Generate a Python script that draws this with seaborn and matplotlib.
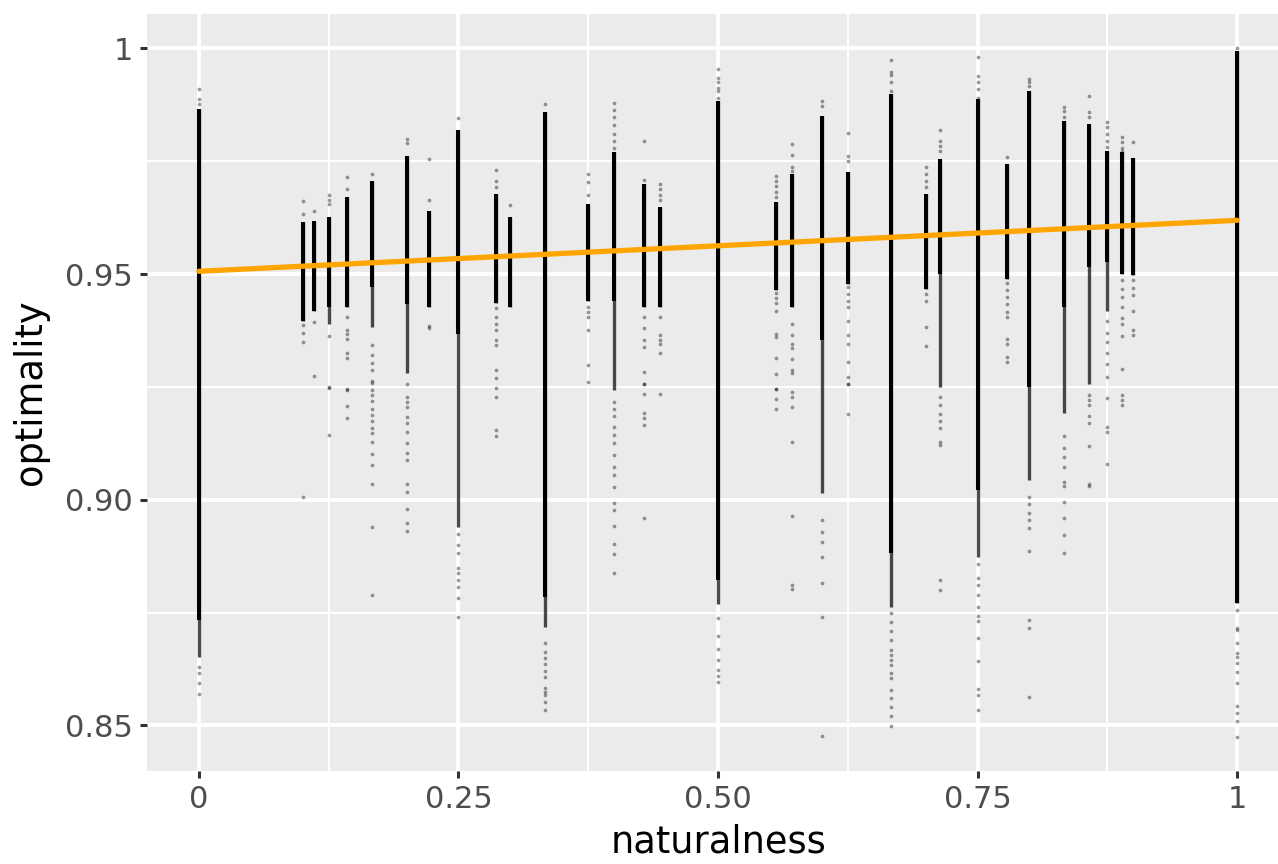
import pandas as pd
import matplotlib
matplotlib.use("Agg")
import matplotlib.pyplot as plt
import seaborn as sns

# naturalness levels (x positions of the vertical strips)
naturalness = [0, 0.1, 0.111, 0.125, 0.143, 0.167, 0.2, 0.222, 0.25, 0.286, 0.3,
               0.333, 0.375, 0.4, 0.429, 0.444, 0.5, 0.556, 0.571, 0.6, 0.625,
               0.667, 0.7, 0.714, 0.75, 0.778, 0.8, 0.833, 0.857, 0.875, 0.889,
               0.9, 1]

# dense core of each strip (solid black)
core_lo = [0.8733, 0.9397, 0.9418, 0.9427, 0.9427, 0.9471, 0.9434, 0.9427, 0.9368, 0.9435, 0.9427,
           0.8785, 0.9441, 0.9441, 0.9427, 0.9427, 0.8822, 0.9464, 0.9427, 0.9353, 0.9478,
           0.8881, 0.9467, 0.9501, 0.9021, 0.949, 0.925, 0.9427, 0.9515, 0.9526, 0.95,
           0.9497, 0.8771]
core_hi = [0.9866, 0.9615, 0.9618, 0.9626, 0.967, 0.9707, 0.9762, 0.964, 0.9818, 0.9677, 0.9627,
           0.9858, 0.9655, 0.977, 0.97, 0.9648, 0.9884, 0.9659, 0.9722, 0.9851, 0.9725,
           0.9899, 0.9677, 0.9755, 0.9888, 0.9744, 0.9906, 0.984, 0.9832, 0.9773, 0.977,
           0.9758, 0.9994]

# looser lower tail below the core (semi-dense points)
tail_lo = [0.8652, 0.9397, 0.9418, 0.939, 0.9427, 0.9382, 0.928, 0.9427, 0.894, 0.9435, 0.9427,
           0.8719, 0.9441, 0.9242, 0.9427, 0.9427, 0.877, 0.9464, 0.9427, 0.9014, 0.9478,
           0.8763, 0.9467, 0.925, 0.8874, 0.949, 0.9043, 0.9191, 0.9256, 0.9419, 0.95,
           0.9497, 0.8771]

# scattered single points of each strip
outliers = [
    [0.991, 0.9888, 0.9877, 0.863, 0.8617, 0.8595, 0.8569],
    [0.9661, 0.9632, 0.9386, 0.9369, 0.9349, 0.9006],
    [0.9639, 0.9394, 0.9273],
    [0.9676, 0.9665, 0.9655, 0.9363, 0.9249, 0.9248, 0.9143],
    [0.9716, 0.9689, 0.9405, 0.9375, 0.9366, 0.9357, 0.9324, 0.9313, 0.9245, 0.9242, 0.9208, 0.918],
    [0.9722, 0.9342, 0.932, 0.9303, 0.9287, 0.9258, 0.9264, 0.9242, 0.9231, 0.9218, 0.92, 0.9187,
     0.9175, 0.9159, 0.9147, 0.9128, 0.9101, 0.9076, 0.9035, 0.8939, 0.879],
    [0.9799, 0.979, 0.9257, 0.9228, 0.9217, 0.9206, 0.9183, 0.917, 0.915, 0.9126, 0.9103, 0.9088,
     0.9034, 0.9017, 0.8979, 0.8948, 0.893],
    [0.9755, 0.9664, 0.9384, 0.938],
    [0.9846, 0.8924, 0.89, 0.8883, 0.8848, 0.8837, 0.8822, 0.8806, 0.8782, 0.8741],
    [0.9731, 0.9705, 0.9692, 0.9424, 0.9405, 0.939, 0.9375, 0.9353, 0.9342, 0.9287, 0.9269,
     0.9247, 0.9228, 0.9154, 0.9141],
    [0.9652],
    [0.9877, 0.8682, 0.8663, 0.865, 0.8635, 0.8621, 0.8608, 0.8583, 0.8575, 0.8568, 0.8552, 0.8535],
    [0.9722, 0.9703, 0.9674, 0.9427, 0.9416, 0.9405, 0.9375, 0.9298, 0.9261],
    [0.9878, 0.9863, 0.9847, 0.9829, 0.981, 0.9795, 0.978, 0.9216, 0.92, 0.9185, 0.9161, 0.9143,
     0.9125, 0.9099, 0.9073, 0.9054, 0.9029, 0.8993, 0.8977, 0.8942, 0.8901, 0.888, 0.8838],
    [0.9795, 0.9708, 0.9405, 0.938, 0.9353, 0.9338, 0.9283, 0.9257, 0.9256, 0.9234, 0.9192,
     0.918, 0.9165, 0.8959],
    [0.97, 0.9689, 0.9676, 0.9663, 0.9405, 0.9364, 0.9354, 0.9344, 0.9325, 0.9235],
    [0.9954, 0.9935, 0.9925, 0.9913, 0.9906, 0.9891, 0.8739, 0.8699, 0.867, 0.8644, 0.8623,
     0.861, 0.8597],
    [0.9718, 0.9707, 0.9695, 0.9682, 0.967, 0.9457, 0.9446, 0.9435, 0.9418, 0.9368, 0.936,
     0.9315, 0.9279, 0.9246, 0.9245, 0.9222, 0.92],
    [0.9787, 0.9763, 0.9738, 0.9729, 0.939, 0.9364, 0.9346, 0.9335, 0.9311, 0.9287, 0.928,
     0.9239, 0.9228, 0.9206, 0.9128, 0.8963, 0.8811, 0.8802],
    [0.9884, 0.9873, 0.8955, 0.8928, 0.8906, 0.8873, 0.8816, 0.874, 0.8476],
    [0.9812, 0.9762, 0.9751, 0.9471, 0.9455, 0.944, 0.9427, 0.9395, 0.9364, 0.9344, 0.9304,
     0.9271, 0.9257, 0.9256, 0.919],
    [0.9975, 0.9947, 0.994, 0.9925, 0.9906, 0.875, 0.873, 0.871, 0.869, 0.8667, 0.8656, 0.8645,
     0.8634, 0.8616, 0.8605, 0.8579, 0.856, 0.854, 0.852, 0.8498],
    [0.9736, 0.9722, 0.9707, 0.9692, 0.9456, 0.944, 0.9382, 0.934],
    [0.982, 0.9795, 0.9784, 0.9773, 0.9228, 0.921, 0.919, 0.9175, 0.9158, 0.9128, 0.9121,
     0.8822, 0.88],
    [0.9981, 0.9939, 0.9925, 0.991, 0.9891, 0.8857, 0.8826, 0.881, 0.879, 0.8763, 0.8742,
     0.8731, 0.8694, 0.8643, 0.858, 0.8567, 0.8535],
    [0.976, 0.9479, 0.9465, 0.9449, 0.9433, 0.9416, 0.9405, 0.9357, 0.9346, 0.9316, 0.9305],
    [0.9933, 0.9925, 0.9917, 0.9006, 0.899, 0.897, 0.8955, 0.8937, 0.8887, 0.8734, 0.8715, 0.8562],
    [0.9869, 0.9862, 0.9847, 0.9141, 0.9115, 0.9094, 0.9073, 0.904, 0.903, 0.8995, 0.8959,
     0.8922, 0.8881],
    [0.9895, 0.9858, 0.9847, 0.9233, 0.922, 0.9209, 0.9186, 0.9169, 0.9118, 0.9035, 0.903],
    [0.9836, 0.9825, 0.981, 0.9795, 0.9781, 0.9397, 0.937, 0.935, 0.9325, 0.93, 0.9272, 0.9225,
     0.9162, 0.9149, 0.9079],
    [0.9803, 0.9792, 0.978, 0.9773, 0.9486, 0.9467, 0.9449, 0.9427, 0.9402, 0.939, 0.9363,
     0.929, 0.9233, 0.922, 0.9209],
    [0.9793, 0.9486, 0.947, 0.9453, 0.9418, 0.9375, 0.9364],
    [1.0, 0.8756, 0.8716, 0.8711, 0.8682, 0.866, 0.8652, 0.8638, 0.8619, 0.8595, 0.8544,
     0.8527, 0.851, 0.8475],
]

# linear fit (endpoints)
fit_x = [0, 1]
fit_y = [0.9506, 0.9619]

x_ticks = [0, 0.25, 0.5, 0.75, 1]
x_labels = ["0", "0.25", "0.50", "0.75", "1"]
y_ticks = [0.85, 0.90, 0.95, 1.0]
y_labels = ["0.85", "0.90", "0.95", "1"]

pts = pd.DataFrame(
    [(x, y) for x, ys in zip(naturalness, outliers) for y in ys],
    columns=["naturalness", "optimality"],
)

sns.set_style("darkgrid", {"axes.facecolor": "#EBEBEB", "grid.color": "white"})
plt.rcParams["font.family"] = ["DejaVu Sans"]

fig = plt.figure(figsize=(12.78, 8.64), dpi=100)
ax = fig.add_axes([147 / 1278, (864 - 771) / 864, (1289 - 147) / 1278, (771 - 14) / 864])

ax.vlines(naturalness, tail_lo, core_hi, colors="black", linewidth=2.4, alpha=0.7, zorder=2)
ax.vlines(naturalness, core_lo, core_hi, colors="black", linewidth=2.9, zorder=3)
sns.scatterplot(data=pts, x="naturalness", y="optimality", ax=ax, color="black",
                s=7, alpha=0.4, linewidth=0, zorder=4)
sns.lineplot(x=fit_x, y=fit_y, ax=ax, color="#FFA500", linewidth=3.8, zorder=5)

ax.set_xlim(-0.05, 1.05)
ax.set_ylim(0.8399, 1.0076)
ax.set_xticks(x_ticks)
ax.set_xticklabels(x_labels)
ax.set_yticks(y_ticks)
ax.set_yticklabels(y_labels)
ax.set_xticks([0.125, 0.375, 0.625, 0.875], minor=True)
ax.set_yticks([0.875, 0.925, 0.975], minor=True)
ax.grid(which="major", color="white", linewidth=2.8)
ax.grid(which="minor", color="white", linewidth=1.4)
ax.set_axisbelow(True)
for s in ax.spines.values():
    s.set_visible(False)

ax.tick_params(axis="both", which="major", length=5, width=2.2, color="#333333",
               labelsize=22, labelcolor="#4D4D4D", pad=5, bottom=True, left=True)
ax.tick_params(axis="both", which="minor", length=0)

ax.set_xlabel("naturalness", fontsize=26.5, color="black", labelpad=7)
ax.set_ylabel("optimality", fontsize=26.5, color="black", labelpad=12)

fig.savefig("out.png", dpi=100)
